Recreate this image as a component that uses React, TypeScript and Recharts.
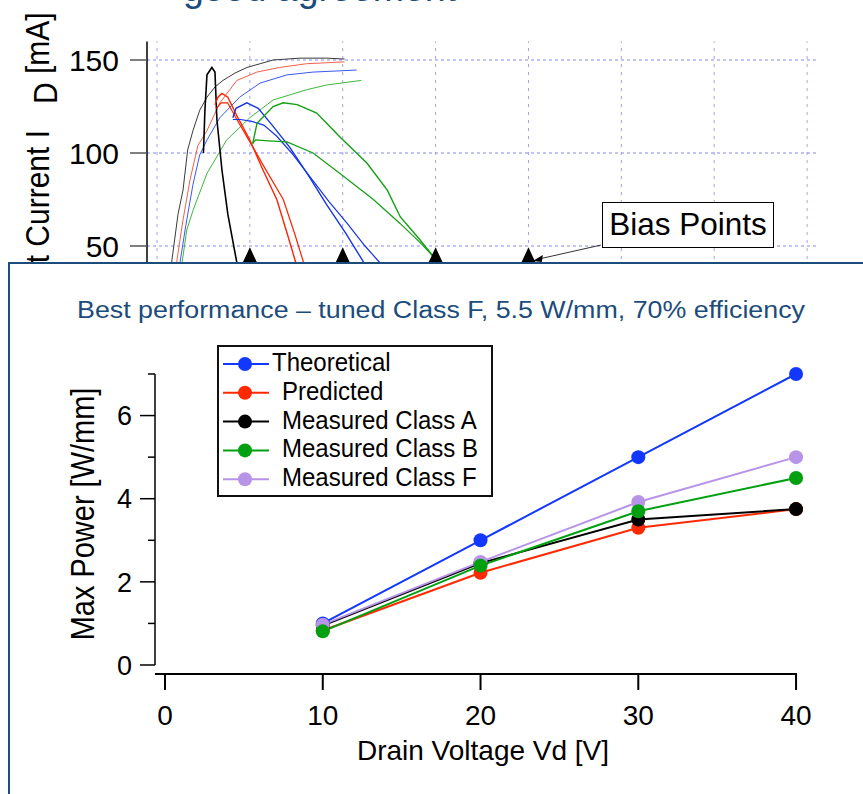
import React from "react";
import {
  ComposedChart,
  LineChart,
  Line,
  Scatter,
  XAxis,
  YAxis,
  ReferenceLine,
  ReferenceDot,
} from "recharts";

const FONT = '"Liberation Sans", Arial, Helvetica, sans-serif';
const NAVY = "#1b4c7c";

// ---- background plot: drain current traces [Vds (V), Id (mA)] ----
const blackKnee = [
  [1.18, 21], [1.61, 42.5], [2.26, 67], [2.8, 80], [3.3, 101.6], [3.87, 112],
  [4.6, 123], [5.38, 130], [6.24, 135.5], [7.1, 139], [8.4, 143], [9.7, 146],
  [11.1, 148], [12.5, 150], [15.4, 151], [18.3, 151], [20.2, 150.5],
];
const redKnee = [
  [1.9, 25], [2.15, 42.5], [2.8, 64], [3.55, 85.5], [4.4, 104], [5.38, 112],
  [6.77, 127], [8.6, 139], [10.75, 143.5], [13.2, 146], [16.1, 148], [20.2, 149],
];
const blueKnee = [
  [2.2, 25], [2.47, 41], [3.1, 61], [3.87, 83], [4.6, 99], [5.38, 107],
  [6.77, 119], [8.9, 130], [11.1, 137.6], [14, 142], [16.8, 143.5], [21.5, 144.6],
];
const greenKnee = [
  [2.4, 25], [2.7, 41], [3.2, 58.6], [3.87, 69], [5.38, 89], [7.5, 107],
  [10, 119], [12.5, 128.5], [16.1, 134], [18.3, 136.6], [22, 139],
];
const blackLoad = [
  [5.0, 100], [5.16, 123], [5.38, 142], [5.91, 146], [6.24, 143.5], [6.45, 118],
  [6.99, 91], [7.63, 67], [8.6, 41], [9.1, 26],
];
const redLoadA = [
  [6.24, 126], [6.56, 130], [6.99, 132], [7.63, 130], [8.6, 120], [10, 107],
  [11.4, 91], [12.9, 75], [14.0, 57], [14.86, 42.5], [15.4, 33],
];
const redLoadB = [
  [6.4, 124], [6.9, 127], [7.6, 127], [8.6, 118], [10, 106], [11.6, 92],
  [13.6, 75], [14.8, 57], [15.7, 42.5], [16.2, 33],
];
const blueLoadA = [
  [8.17, 119], [8.5, 124], [9.68, 127], [10.9, 124], [12.4, 115], [14.3, 103],
  [16.3, 88], [18.3, 72], [20.3, 57], [22.1, 42.5], [22.8, 36],
];
const blueLoadB = [
  [8.17, 118], [9.0, 118], [10.2, 117], [11.5, 115], [12.9, 109], [14.5, 100],
  [16.5, 87], [18.5, 74], [20.5, 62], [22.4, 50], [24, 41], [24.8, 35],
];
const greenLoadA = [
  [10.3, 105], [10.77, 116], [12.5, 125], [13.6, 127], [15.1, 126], [17.2, 121.5],
  [19.7, 108.6], [22.6, 94.6], [24.8, 80], [26.2, 65.6], [28.2, 54], [29.9, 43.5], [30.4, 38],
];
const greenLoadB = [
  [10.3, 105], [10.6, 107], [12, 106.5], [14, 106], [16.8, 100], [19.7, 89],
  [23.3, 75], [26.2, 62], [28.5, 51], [30, 43], [30.6, 37],
];
const biasVoltages = [10, 20, 30, 40];
const biasCurrent = 45;
const currentTicks = [50, 100, 150];
const vdsGrid = [0, 10, 20, 30, 40, 50, 60, 70];

// ---- inset: max power vs drain voltage ----
const drainVoltages = [10, 20, 30, 40];
const theoretical = [1.0, 3.0, 5.0, 7.0];
const predicted = [0.83, 2.22, 3.3, 3.75];
const measuredA = [0.95, 2.45, 3.5, 3.75];
const measuredF = [0.97, 2.48, 3.92, 5.0];
const measuredB = [0.81, 2.39, 3.7, 4.5];
const powerTicks = [0, 1, 2, 3, 4, 5, 6, 7];
const voltageTicks = [0, 10, 20, 30, 40];

const series = [
  { key: "theoretical", name: "Theoretical", values: theoretical, color: "#1238ff" },
  { key: "predicted", name: "Predicted", values: predicted, color: "#ff2a00" },
  { key: "measuredA", name: "Measured Class A", values: measuredA, color: "#000000" },
  { key: "measuredB", name: "Measured Class B", values: measuredB, color: "#00a010" },
  { key: "measuredF", name: "Measured Class F", values: measuredF, color: "#b894e8" },
];
// draw order (last on top)
const drawOrder = ["theoretical", "predicted", "measuredA", "measuredF", "measuredB"];

const toPts = (arr: number[][]) => arr.map(([v, i]) => ({ v, i }));

const traces = [
  { id: "bk", data: blackKnee, color: "#3a3a3a", w: 1 },
  { id: "rk", data: redKnee, color: "#f0604a", w: 1 },
  { id: "uk", data: blueKnee, color: "#3a58f0", w: 1 },
  { id: "gk", data: greenKnee, color: "#3cb83c", w: 1 },
  { id: "bl", data: blackLoad, color: "#000000", w: 1.6 },
  { id: "rl1", data: redLoadA, color: "#ff2200", w: 1.4 },
  { id: "rl2", data: redLoadB, color: "#ff2200", w: 1.2 },
  { id: "ul1", data: blueLoadA, color: "#1535e8", w: 1.4 },
  { id: "ul2", data: blueLoadB, color: "#1535e8", w: 1.2 },
  { id: "gl1", data: greenLoadA, color: "#11a011", w: 1.4 },
  { id: "gl2", data: greenLoadB, color: "#11a011", w: 1.2 },
];

const biasData = biasVoltages.map((v) => ({ v, i: biasCurrent }));

const powerData = drainVoltages.map((v, idx) => {
  const row: Record<string, number> = { v };
  series.forEach((s) => {
    row[s.key] = s.values[idx];
  });
  return row;
});

const V_MIN = -0.634;
const GRID = "#8585ff";

function Triangle(props: any) {
  const { cx, cy } = props;
  return (
    <polygon
      points={`${cx},${cy - 8} ${cx - 7},${cy + 7} ${cx + 7},${cy + 7}`}
      fill="#000"
    />
  );
}

function Arrowhead(props: any) {
  const { cx, cy } = props;
  return (
    <polygon points={`${cx - 4},${cy + 3} ${cx + 6},${cy - 3} ${cx + 5},${cy + 4}`} fill="#000" />
  );
}

// rotated text, slightly widened across its height like the source
function VText(props: { x: number; y: number; anchor: string; size: number; children: string }) {
  const { x, y, anchor, size, children } = props;
  return (
    <text
      x={0}
      y={0}
      textAnchor={anchor}
      fontSize={size}
      fontFamily={FONT}
      fill="#000"
      transform={`translate(${x},${y}) scale(1.12,1) rotate(-90)`}
    >
      {children}
    </text>
  );
}

function CurrentLabel() {
  return (
    <g>
      <VText x={49} y={130} anchor="end" size={30}>
        Output Current I
      </VText>
      <VText x={57} y={104} anchor="start" size={30}>
        D
      </VText>
      <VText x={49} y={74} anchor="start" size={30}>
        [mA]
      </VText>
    </g>
  );
}

function PowerTick(props: any) {
  const { x, y, payload } = props;
  const major = payload.value % 2 === 0;
  return (
    <g>
      <line x1={x - (major ? 15 : 7)} x2={x} y1={y} y2={y} stroke="#000" strokeWidth={1.5} />
      {major && (
        <text
          x={x - 23}
          y={y}
          dy="0.36em"
          textAnchor="end"
          fontSize={27}
          fontFamily={FONT}
          fill="#000"
        >
          {payload.value}
        </text>
      )}
    </g>
  );
}

function Background() {
  return (
    <ComposedChart
      width={863}
      height={360}
      margin={{ top: 41.4, right: 46, bottom: 21, left: 0 }}
      style={{ position: "absolute", left: 0, top: 0 }}
    >
      <XAxis
        type="number"
        dataKey="v"
        hide
        domain={[-1.077, 71.07]}
        ticks={vdsGrid}
        allowDataOverflow
      />
      <YAxis
        type="number"
        dataKey="i"
        width={147}
        domain={[0, 160]}
        ticks={currentTicks}
        interval={0}
        allowDataOverflow
        tickSize={17}
        tickMargin={11}
        axisLine={{ stroke: "#000", strokeWidth: 1.5 }}
        tickLine={{ stroke: "#555", strokeWidth: 1.5 }}
        tick={{ fontSize: 30, fill: "#000", fontFamily: FONT }}
        label={{ content: () => <CurrentLabel /> }}
      />
      {currentTicks.map((t) => (
        <ReferenceLine key={`h${t}`} y={t} stroke={GRID} strokeDasharray="3 3" strokeWidth={1} />
      ))}
      {vdsGrid.map((t) => (
        <ReferenceLine
          key={`v${t}`}
          x={t}
          stroke="#a0a0ff"
          strokeDasharray="3 5"
          strokeWidth={1}
        />
      ))}
      {traces.map((t) => (
        <Line
          key={t.id}
          data={toPts(t.data)}
          dataKey="i"
          type="linear"
          stroke={t.color}
          strokeWidth={t.w}
          dot={false}
          activeDot={false}
          isAnimationActive={false}
        />
      ))}
      <Scatter data={biasData} dataKey="i" shape={<Triangle />} isAnimationActive={false} />
      <ReferenceLine
        segment={[
          { x: 47.8, y: 50.5 },
          { x: 41.3, y: 43.2 },
        ]}
        stroke="#333"
        strokeWidth={1}
        ifOverflow="visible"
      />
      <ReferenceDot x={40.9} y={43.5} shape={<Arrowhead />} ifOverflow="visible" />
    </ComposedChart>
  );
}

function Inset() {
  return (
    <LineChart
      width={863}
      height={530}
      data={powerData}
      margin={{ top: 110, right: 66, bottom: 60, left: 0 }}
      style={{ position: "absolute", left: 0, top: 264 }}
    >
      <XAxis
        type="number"
        dataKey="v"
        domain={[V_MIN, 40.06]}
        ticks={voltageTicks}
        interval={0}
        height={60}
        tickSize={16}
        tickMargin={15}
        axisLine={{ stroke: "#000", strokeWidth: 2 }}
        tickLine={{ stroke: "#000", strokeWidth: 2 }}
        tick={{ fontSize: 28, fill: "#000", fontFamily: FONT }}
        label={{
          content: () => (
            <text x={483} y={496} textAnchor="middle" fontSize={28} fontFamily={FONT} fill="#000">
              Drain Voltage Vd [V]
            </text>
          ),
        }}
      />
      <YAxis
        type="number"
        width={155}
        domain={[-0.2165, 7]}
        ticks={powerTicks}
        interval={0}
        axisLine={false}
        tickLine={false}
        tickSize={0}
        tickMargin={0}
        tick={<PowerTick />}
        label={{
          content: () => (
            <VText x={94} y={250} anchor="middle" size={29}>
              Max Power [W/mm]
            </VText>
          ),
        }}
      />
      <ReferenceLine
        segment={[
          { x: V_MIN, y: 0 },
          { x: V_MIN, y: 7 },
        ]}
        stroke="#000"
        strokeWidth={1.5}
        ifOverflow="visible"
      />
      {drawOrder.map((k) => {
        const s = series.find((x) => x.key === k)!;
        return (
          <Line
            key={s.key}
            dataKey={s.key}
            name={s.name}
            type="linear"
            stroke={s.color}
            strokeWidth={2}
            dot={{ r: 7, fill: s.color, stroke: s.color, strokeWidth: 0 }}
            activeDot={false}
            isAnimationActive={false}
          />
        );
      })}
    </LineChart>
  );
}

function LegendBox() {
  return (
    <div
      style={{
        position: "absolute",
        left: 217,
        top: 345,
        width: 276,
        height: 152,
        boxSizing: "border-box",
        border: "2px solid #111",
        background: "#fff",
      }}
    >
      <svg width={272} height={148} style={{ position: "absolute", left: 0, top: 0 }}>
        {series.map((s, idx) => {
          const cy = 17 + idx * 28.8;
          return (
            <g key={s.key}>
              <line x1={4} x2={50} y1={cy} y2={cy} stroke={s.color} strokeWidth={2} />
              <circle cx={26} cy={cy} r={7} fill={s.color} />
              <text
                x={idx === 0 ? 53 : 63}
                y={cy + 7}
                fontSize={24}
                fontFamily={FONT}
                fill="#000"
                transform={`translate(0, ${-(cy + 7) * 0.06}) scale(1, 1.06)`}
              >
                {s.name}
              </text>
            </g>
          );
        })}
      </svg>
    </div>
  );
}

export default function App() {
  return (
    <div
      style={{
        position: "absolute",
        left: 0,
        top: 0,
        width: 863,
        height: 794,
        overflow: "hidden",
        background: "#fff",
        fontFamily: FONT,
      }}
    >
      <svg width={863} height={20} style={{ position: "absolute", left: 0, top: 0 }}>
        <text x={183} y={1} fontSize={37.5} fontFamily={FONT} fill={NAVY}>
          good agreement
        </text>
      </svg>
      <Background />
      <div
        style={{
          position: "absolute",
          left: 602,
          top: 202,
          width: 172,
          height: 46,
          boxSizing: "border-box",
          border: "1.5px solid #000",
          background: "#fff",
          fontSize: 31.5,
          lineHeight: "43px",
          textAlign: "center",
          color: "#000",
          whiteSpace: "nowrap",
        }}
      >
        Bias Points
      </div>
      <div
        style={{
          position: "absolute",
          left: 8,
          top: 262,
          width: 920,
          height: 600,
          boxSizing: "border-box",
          borderLeft: `2.5px solid ${NAVY}`,
          borderTop: `2.5px solid ${NAVY}`,
          background: "#fff",
        }}
      />
      <svg width={863} height={40} style={{ position: "absolute", left: 0, top: 290 }}>
        <text
          x={77}
          y={28}
          fontSize={23.5}
          fontFamily={FONT}
          fill={NAVY}
          textLength={728}
          lengthAdjust="spacingAndGlyphs"
        >
          Best performance – tuned Class F, 5.5 W/mm, 70% efficiency
        </text>
      </svg>
      <Inset />
      <LegendBox />
    </div>
  );
}
